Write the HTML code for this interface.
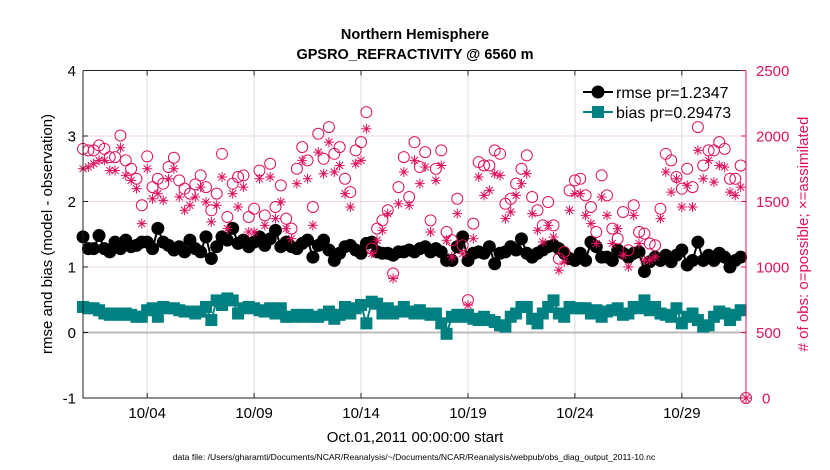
<!DOCTYPE html>
<html><head><meta charset="utf-8"><style>
html,body{margin:0;padding:0;background:#fff}
svg{display:block;font-family:"Liberation Sans",sans-serif}
</style></head><body>
<svg id="chart" width="830" height="470" xmlns="http://www.w3.org/2000/svg">
<text x="415" y="39" text-anchor="middle" font-size="14.5" font-weight="bold">Northern Hemisphere</text>
<text x="415" y="59" text-anchor="middle" font-size="14.5" font-weight="bold">GPSRO_REFRACTIVITY @ 6560 m</text>
<g id="grid"></g>
<g id="plot"></g>
<g id="axes"></g>
<text transform="translate(52,234) rotate(-90)" text-anchor="middle" font-size="15">rmse and bias (model - observation)</text>
<text transform="translate(808,234) rotate(-90)" text-anchor="middle" font-size="15" fill="#e0115f"># of obs: o=possible; ×=assimilated</text>
<text x="415" y="442" text-anchor="middle" font-size="15">Oct.01,2011 00:00:00 start</text>
<text x="414" y="460" text-anchor="middle" font-size="8.6">data file: /Users/gharamti/Documents/NCAR/Reanalysis/~/Documents/NCAR/Reanalysis/webpub/obs_diag_output_2011-10.nc</text>
<g>
<line x1="583" y1="92" x2="613" y2="92" stroke="#000" stroke-width="2"/>
<circle cx="598" cy="92" r="6.5" fill="#000"/>
<text x="616" y="98" font-size="16">rmse pr=1.2347</text>
<line x1="583" y1="112" x2="613" y2="112" stroke="#008080" stroke-width="2"/>
<rect x="592" y="106" width="12" height="12" fill="#008080"/>
<text x="616" y="118" font-size="16">bias pr=0.29473</text>
</g>
</svg>
<script>
const xTickLabels=["10/04","10/09","10/14","10/19","10/24","10/29"];
const xTickDays=[3,8,13,18,23,28];
const yLeftTicks=[-1,0,1,2,3,4];
const yRightTicks=[0,500,1000,1500,2000,2500];
const rmse=[1.46,1.28,1.28,1.48,1.28,1.23,1.38,1.28,1.41,1.31,1.33,1.38,1.38,1.28,1.59,1.38,1.33,1.26,1.31,1.23,1.41,1.28,1.23,1.46,1.13,1.31,1.46,1.41,1.59,1.36,
1.41,1.31,1.38,1.46,1.33,1.43,1.56,1.31,1.38,1.31,1.28,1.36,1.41,1.15,1.33,1.41,1.26,1.10,1.21,1.31,1.33,1.26,1.21,1.36,1.38,1.23,1.21,1.21,1.18,1.23,1.23,1.26,
1.23,1.28,1.31,1.23,1.28,1.23,1.10,1.10,1.31,1.46,1.10,1.21,1.23,1.21,1.31,1.05,1.21,1.23,1.31,1.26,1.43,1.21,1.15,1.21,1.26,1.31,1.33,1.28,1.21,1.13,1.10,
1.21,1.10,1.38,1.31,1.15,1.15,1.10,1.26,1.21,1.15,1.21,1.23,0.93,1.08,1.15,1.10,1.18,1.08,1.18,1.26,1.03,1.10,1.38,1.10,1.18,1.10,1.21,1.15,1.00,1.10,1.15];
const bias=[.39,.37,.37,.34,.29,.27,.29,.27,.29,.27,.24,.24,.34,.37,.24,.39,.37,.37,.34,.32,.32,.29,.32,.39,.19,.49,.42,.52,.49,.29,
.37,.39,.37,.34,.32,.37,.29,.37,.24,.24,.27,.24,.27,.24,.24,.27,.32,.21,.27,.39,.29,.37,.42,.14,.47,.44,.29,.37,.29,.32,.39,.32,
.29,.34,.29,.27,.29,.14,-.02,.24,.27,.24,.27,.21,.19,.24,.19,.16,.11,.09,.24,.29,.39,.39,.21,.14,.29,.39,.49,.29,.24,.39,.37,
.37,.37,.29,.34,.24,.32,.34,.37,.27,.29,.39,.37,.49,.34,.39,.29,.27,.24,.37,.14,.24,.29,.19,.09,.11,.24,.32,.29,.19,.27,.34];
const possible=[1902,1890,1890,1928,1902,1839,1839,2004,1814,1750,1674,1471,1844,1610,1674,1636,1763,1834,1661,1598,1560,1631,1699,1610,1433,1560,1864,1382,1636,1687,
1699,1382,1445,1737,1394,1788,1458,1623,1369,1293,1750,1915,1814,1458,2017,1826,2068,1864,1915,1674,1572,1890,1953,2182,1141,1293,1356,1433,950,1610,1839,1534,
1953,1763,1877,1356,1750,1890,1267,1204,1521,1166,747,1331,1801,1775,1775,1890,1864,1483,1521,1636,1750,1852,1534,1433,1318,1496,1318,1064,1115,1585,1661,
1674,1547,1458,1267,1699,1547,1293,1217,1420,1128,1471,1267,1255,1179,1166,1445,1864,1814,1687,1598,1750,1610,2068,1775,1890,1890,1953,1902,1674,1674,1775,0];
const assimilated=[1750,1763,1788,1814,1814,1737,1737,1910,1699,1661,1598,1331,1750,1521,1560,1509,1674,1750,1534,1433,1471,1534,1610,1496,1344,1471,1687,1293,1560,1458,
1610,1267,1267,1674,1318,1687,1369,1496,1293,1217,1636,1814,1674,1318,1877,1712,1953,1725,1775,1560,1458,1788,1814,2055,1102,1204,1280,1407,912,1483,1725,1471,
1814,1636,1763,1267,1661,1775,1204,1077,1407,1102,709,1217,1687,1547,1585,1712,1699,1369,1420,1547,1636,1712,1407,1280,1191,1318,1229,975,1039,1433,1560,
1560,1394,1331,1179,1534,1394,1179,1293,1090,1001,1394,1179,1052,1052,1077,1369,1725,1572,1674,1458,1623,1458,1890,1674,1814,1648,1775,1763,1572,1547,1610,0];

const NS="http://www.w3.org/2000/svg";
const L=83,R=746,T=70.5,B=398;
const X=d=>L+(d/31)*(R-L);
const YL=v=>B-(v+1)/5*(B-T);
const YR=v=>B-v/2500*(B-T);
const CR="#e0115f";
function mk(tag,attrs,parent){const e=document.createElementNS(NS,tag);for(const k in attrs)e.setAttribute(k,attrs[k]);parent.appendChild(e);return e;}
const grid=document.getElementById('grid'),plot=document.getElementById('plot'),axes=document.getElementById('axes');

yRightTicks.forEach((v,i)=>{
  if(v===0||v===2500)return;
  const y=YR(v);
  const g=mk('line',{x1:L,x2:R,y1:y,y2:y,stroke:'#f2d3de','stroke-width':1},grid);
  
  
});
xTickDays.forEach((d,i)=>{
  const x=X(d);
  const g=mk('line',{x1:x,x2:x,y1:T,y2:B,stroke:'#dcdcdc','stroke-width':1},grid);
  
  
  const t=mk('line',{x1:x,x2:x,y1:B,y2:B-5,stroke:'#222','stroke-width':1},axes);
  
  
  const t2=mk('line',{x1:x,x2:x,y1:T,y2:T+5,stroke:'#222','stroke-width':1},axes);
  
  
  const lb=mk('text',{x:x,y:418,'text-anchor':'middle','font-size':15},axes);
  lb.textContent=xTickLabels[i];
  
  
});
const zl=mk('line',{x1:L,x2:R,y1:YL(0),y2:YL(0),stroke:'#bbb','stroke-width':2},grid);



let pts=bias.map((v,i)=>X(i/4)+','+YL(v)).join(' ');
const bl=mk('polyline',{points:pts,fill:'none',stroke:'#008080','stroke-width':2},plot);


bias.forEach((v,i)=>{
  const r=mk('rect',{x:X(i/4)-6,y:YL(v)-6,width:12,height:12,fill:'#008080'},plot);
  
  
});
pts=rmse.map((v,i)=>X(i/4)+','+YL(v)).join(' ');
const rl=mk('polyline',{points:pts,fill:'none',stroke:'#000','stroke-width':2},plot);


rmse.forEach((v,i)=>{
  const c=mk('circle',{cx:X(i/4),cy:YL(v),r:6.5,fill:'#000'},plot);
  
  
});
possible.forEach((v,i)=>{
  const c=mk('circle',{cx:X(i/4),cy:YR(v),r:5.5,fill:'none',stroke:CR,'stroke-width':1},plot);
  
  
});
assimilated.forEach((v,i)=>{
  const x=X(i/4),y=YR(v),s=5;
  const p=mk('path',{d:`M${x-s},${y}H${x+s}M${x},${y-s}V${y+s}M${x-s*0.7},${y-s*0.7}L${x+s*0.7},${y+s*0.7}M${x-s*0.7},${y+s*0.7}L${x+s*0.7},${y-s*0.7}`,stroke:CR,'stroke-width':1,fill:'none'},plot);
  
  
});

const ax1=mk('path',{d:`M${L},${T}V${B}H${R}`,fill:'none',stroke:'#222','stroke-width':1},axes);


const ax2=mk('line',{x1:L,x2:R,y1:T,y2:T,stroke:'#222','stroke-width':1},axes);


const ax3=mk('line',{x1:R,x2:R,y1:T,y2:B,stroke:CR,'stroke-width':1},axes);


yLeftTicks.forEach(v=>{
  const y=YL(v);
  const t=mk('line',{x1:L,x2:L+5,y1:y,y2:y,stroke:'#222'},axes);
  
  
  const lb=mk('text',{x:76,y:y+5.5,'text-anchor':'end','font-size':15},axes);
  lb.textContent=String(v);
  
  
});
yRightTicks.forEach(v=>{
  const y=YR(v);
  const t=mk('line',{x1:R-5,x2:R,y1:y,y2:y,stroke:CR},axes);
  
  
  const lb=mk('text',{x:v===0?762:756,y:y+5.5,'text-anchor':'start','font-size':15,fill:CR},axes);
  lb.textContent=String(v);
  
  
});
</script>
</body></html>
